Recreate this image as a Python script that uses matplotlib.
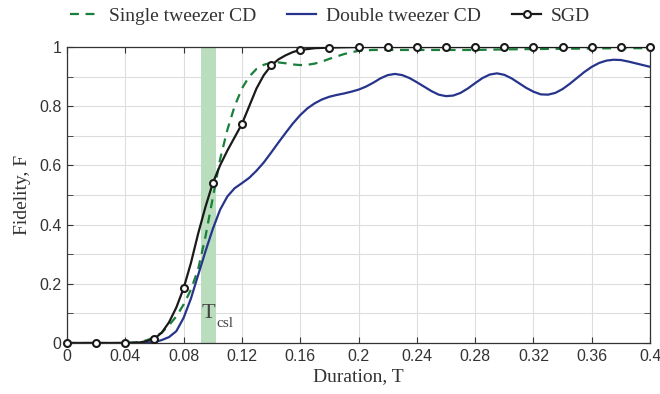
import numpy as np
import matplotlib.pyplot as plt

# single tweezer CD (green dashed)
t_single = [0, 0.04, 0.05, 0.055, 0.06, 0.065, 0.07, 0.075, 0.08, 0.085, 0.09, 0.095, 0.1,
            0.105, 0.11, 0.115, 0.12, 0.125, 0.13, 0.135, 0.14, 0.145, 0.15, 0.155, 0.16, 0.165,
            0.17, 0.175, 0.18, 0.185, 0.19, 0.195, 0.2, 0.21, 0.22, 0.24, 0.26, 0.28, 0.3, 0.32,
            0.34, 0.36, 0.38, 0.4]
f_single = [0, 0, 0.003, 0.01, 0.02, 0.035, 0.06, 0.09, 0.13, 0.18, 0.25, 0.36, 0.49,
            0.62, 0.72, 0.8, 0.86, 0.9, 0.926, 0.94, 0.947, 0.948, 0.945, 0.941, 0.939, 0.94,
            0.944, 0.951, 0.96, 0.968, 0.976, 0.982, 0.987, 0.99, 0.99, 0.99, 0.99, 0.99, 0.992, 0.993,
            0.994, 0.995, 0.996, 0.996]

# double tweezer CD (blue)
t_double = [0, 0.05, 0.06, 0.065, 0.07, 0.075, 0.08, 0.085, 0.09, 0.095, 0.1, 0.105, 0.11,
            0.115, 0.12, 0.125, 0.13, 0.135, 0.14, 0.145, 0.15, 0.155, 0.16, 0.165, 0.17, 0.175,
            0.18, 0.185, 0.19, 0.195, 0.2, 0.205, 0.21, 0.215, 0.22, 0.225, 0.23, 0.235, 0.24,
            0.245, 0.25, 0.255, 0.26, 0.265, 0.27, 0.275, 0.28, 0.285, 0.29, 0.295, 0.3, 0.305,
            0.31, 0.315, 0.32, 0.325, 0.33, 0.335, 0.34, 0.345, 0.35, 0.355, 0.36, 0.365, 0.37,
            0.375, 0.38, 0.385, 0.39, 0.395, 0.4]
f_double = [0, 0, 0.003, 0.01, 0.02, 0.04, 0.085, 0.15, 0.23, 0.31, 0.385, 0.45, 0.495,
            0.523, 0.54, 0.558, 0.582, 0.61, 0.643, 0.677, 0.71, 0.742, 0.77, 0.793, 0.81, 0.823,
            0.832, 0.838, 0.843, 0.849, 0.856, 0.866, 0.879, 0.894, 0.905, 0.909, 0.905, 0.895, 0.881,
            0.866, 0.851, 0.839, 0.834, 0.836, 0.845, 0.86, 0.878, 0.895, 0.907, 0.911, 0.906, 0.894,
            0.878, 0.862, 0.849, 0.84, 0.839, 0.845, 0.858, 0.876, 0.896, 0.916, 0.933, 0.946, 0.954,
            0.957, 0.956, 0.951, 0.945, 0.939, 0.933]

# SGD curve and its markers
t_sgd = [0, 0.04, 0.05, 0.055, 0.06, 0.065, 0.07, 0.075, 0.08, 0.085, 0.09, 0.095, 0.1, 0.105,
         0.11, 0.115, 0.12, 0.125, 0.13, 0.135, 0.14, 0.145, 0.15, 0.155, 0.16, 0.17, 0.18, 0.2, 0.4]
f_sgd = [0, 0, 0.002, 0.007, 0.015, 0.035, 0.07, 0.12, 0.185, 0.27, 0.37, 0.46, 0.54, 0.6,
         0.65, 0.695, 0.74, 0.8, 0.86, 0.905, 0.937, 0.958, 0.972, 0.983, 0.99, 0.996, 0.998, 1.0, 1.0]
t_mark = [0, 0.02, 0.04, 0.06, 0.08, 0.1, 0.12, 0.14, 0.16, 0.18, 0.2, 0.22, 0.24, 0.26,
          0.28, 0.3, 0.32, 0.34, 0.36, 0.38, 0.4]
f_mark = [0, 0, 0, 0.015, 0.185, 0.54, 0.74, 0.94, 0.99, 0.998, 1, 1, 1, 1,
          1, 1, 1, 1, 1, 1, 1]

band = [0.092, 0.102]

# tick labels use the default (sans) family, every other text is serif
plt.rcParams['font.family'] = ['Liberation Sans', 'DejaVu Sans']
serif = ['Liberation Serif', 'DejaVu Serif']

fig = plt.figure(figsize=(6.6, 3.94), dpi=100)
ax = fig.add_axes([0.1015, 0.1294, 0.8835, 0.7513])

ax.axvspan(band[0], band[1], color='#b9ddbd', lw=0, zorder=1)
l1, = ax.plot(t_single, f_single, color='#1a7f3a', lw=1.6, ls=(0, (4, 3)), zorder=3,
              label='Single tweezer CD')
l2, = ax.plot(t_double, f_double, color='#27348b', lw=1.6, zorder=3, label='Double tweezer CD')
ax.plot(t_sgd, f_sgd, color='#1a1a1a', lw=1.6, zorder=4)
ax.plot(t_mark, f_mark, 'o', ms=5, mfc='white', mec='#1a1a1a', mew=1.5, zorder=5, clip_on=False)
l3, = ax.plot([], [], color='#1a1a1a', lw=1.6, marker='o', ms=5, mfc='white', mec='#1a1a1a',
              mew=1.5, label='SGD')

ax.text(0.0922, 0.084, 'T', fontsize=16, family=serif, color='#444444', zorder=6)
ax.text(0.1027, 0.054, 'csl', fontsize=11, family=serif, color='#444444', zorder=6)

ax.set_xlim(0, 0.4)
ax.set_ylim(0, 1)
xt = np.arange(0, 0.41, 0.04)
ax.set_xticks(xt)
ax.set_xticklabels(['0', '0.04', '0.08', '0.12', '0.16', '0.2', '0.24', '0.28', '0.32', '0.36', '0.4'])
ax.set_yticks([0, 0.2, 0.4, 0.6, 0.8, 1])
ax.set_yticklabels(['0', '0.2', '0.4', '0.6', '0.8', '1'])
ax.set_yticks(np.arange(0.1, 1.0, 0.2), minor=True)
ax.grid(True, which='both', color='#dddddd', lw=0.8, zorder=0)
ax.set_axisbelow(True)
ax.tick_params(which='both', direction='in', top=True, right=True, length=4, color='#333333',
               labelsize=11.5, labelcolor='#333333', pad=4)
for s in ax.spines.values():
    s.set_color('#333333')
    s.set_linewidth(0.9)

ax.set_xlabel('Duration, T', family=serif, fontsize=14, color='#333333', labelpad=3)
ax.set_ylabel('Fidelity, F', family=serif, fontsize=14, color='#333333', labelpad=6)

fig.legend(handles=[l1, l2, l3], loc='upper center', bbox_to_anchor=(0.5, 1.025), ncol=3,
           frameon=False, prop={'family': serif, 'size': 14}, handlelength=1.5,
           columnspacing=1.6, handletextpad=0.5, labelcolor='#333333')

fig.savefig('out.png', dpi=100)
